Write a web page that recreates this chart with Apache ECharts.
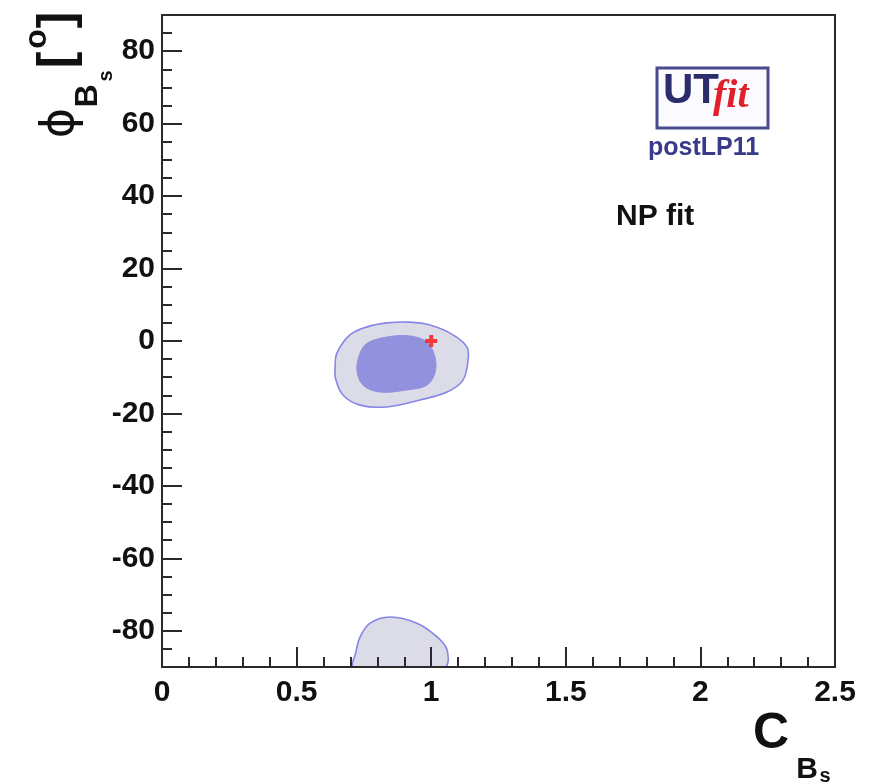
<!DOCTYPE html>
<html>
<head>
<meta charset="utf-8">
<script src="https://cdn.jsdelivr.net/npm/echarts@6/dist/echarts.min.js"></script>
<style>
html,body{margin:0;padding:0;background:#fff;}
#chart{width:875px;height:783px;}
</style>
</head>
<body>
<div id="chart"></div>
<script>
// ---- data ----
const xTickValues = [0, 0.5, 1, 1.5, 2, 2.5];
const yTickValues = [-80, -60, -40, -20, 0, 20, 40, 60, 80];
const xRange = [0, 2.5];
const yRange = [-90, 90];

// 95% probability region (upper island), [C_Bs, phi_Bs]
const outer95 = [[0.643,-7.2],[0.650,-3.3],[0.698,1.7],[0.762,3.9],[0.836,5.0],[0.920,5.2],[0.996,4.4],
  [1.081,1.7],[1.133,-1.7],[1.137,-5.3],[1.118,-10.8],[1.059,-14.1],[0.958,-16.3],[0.836,-18.2],
  [0.736,-17.7],[0.672,-14.9],[0.645,-10.5]];
// 68% probability region
const inner68 = [[0.724,-8.0],[0.735,-3.5],[0.762,-0.6],[0.836,1.1],[0.921,1.4],[0.984,-0.3],[1.014,-4.4],
  [1.014,-8.8],[0.984,-12.2],[0.910,-13.5],[0.810,-14.1],[0.747,-12.2]];
// 95% probability region (lower island)
const lower95 = [[0.712,-90],[0.720,-86],[0.736,-81.7],[0.773,-77.9],[0.847,-76.2],[0.947,-77.9],
  [1.022,-81.7],[1.059,-85.3],[1.051,-90],[0.88,-90]];
// Standard Model point
const smPoint = [[1.0, 0.0]];

// ---- styles ----
const contourList = [
  {pts: outer95, fill: '#dcdce8', stroke: '#8686e6', lw: 1.6},
  {pts: lower95, fill: '#dcdce8', stroke: '#8686e6', lw: 1.6},
  {pts: inner68, fill: '#9191de', stroke: '#9191de', lw: 1}
];
const FONT = "'Liberation Sans', Arial, sans-serif";
const AX = '#2a2a2a';
const G = {left: 162, top: 15, width: 673, height: 652};

const chart = echarts.init(document.getElementById('chart'));
const option = {
  animation: false,
  backgroundColor: '#fff',
  grid: [
    Object.assign({show: false}, G),
    Object.assign({show: true, borderColor: AX, borderWidth: 2, backgroundColor: 'transparent', z: 20}, G)
  ],
  xAxis: [
    {gridIndex: 0, type: 'value', min: xRange[0], max: xRange[1], interval: 0.1, z: 10,
     axisLine: {show: false, onZero: false}, splitLine: {show: false}, axisLabel: {show: false},
     axisTick: {show: true, inside: true, length: 10, lineStyle: {color: AX, width: 2}}},
    {gridIndex: 1, type: 'value', min: xRange[0], max: xRange[1], interval: 0.5, z: 10,
     axisLine: {show: true, onZero: false, lineStyle: {color: AX, width: 2}}, splitLine: {show: false},
     axisTick: {show: true, inside: true, length: 20, customValues: xTickValues, lineStyle: {color: AX, width: 2}},
     axisLabel: {customValues: xTickValues, formatter: v => String(v), margin: 11,
       fontFamily: FONT, fontWeight: 'bold', fontSize: 30, color: '#111'}}
  ],
  yAxis: [
    {gridIndex: 0, type: 'value', min: yRange[0], max: yRange[1], interval: 5, z: 10,
     axisLine: {show: false, onZero: false}, splitLine: {show: false}, axisLabel: {show: false},
     axisTick: {show: true, inside: true, length: 10, lineStyle: {color: AX, width: 2}}},
    {gridIndex: 1, type: 'value', min: yRange[0], max: yRange[1], interval: 10, z: 10,
     axisLine: {show: true, onZero: false, lineStyle: {color: AX, width: 2}}, splitLine: {show: false},
     axisTick: {show: true, inside: true, length: 20, customValues: yTickValues, lineStyle: {color: AX, width: 2}},
     axisLabel: {customValues: yTickValues, formatter: v => String(v), margin: 7,
       fontFamily: FONT, fontWeight: 'bold', fontSize: 30, color: '#111'}}
  ],
  series: [
    {type: 'custom', xAxisIndex: 0, yAxisIndex: 0, clip: true, z: 2,
     data: contourList.map((c, i) => i),
     renderItem: function (params, api) {
       const c = contourList[params.dataIndex];
       const points = c.pts.map(p => api.coord(p));
       return {type: 'polygon', shape: {points: points, smooth: 0.35},
               style: {fill: c.fill, stroke: c.stroke, lineWidth: c.lw}};
     }},
    {type: 'scatter', xAxisIndex: 0, yAxisIndex: 0, z: 30, data: smPoint,
     symbol: 'path://M4,0H8V4H12V8H8V12H4V8H0V4H4Z', symbolSize: 12,
     itemStyle: {color: '#ff1010'}}
  ],
  graphic: [
    // y-axis title  phi_Bs [o]
    {type: 'text', x: 61, y: 123, rotation: Math.PI / 2, z: 50,
     style: {text: 'ϕ', font: "46px 'DejaVu Sans', sans-serif", fill: '#111', textAlign: 'center', textVerticalAlign: 'middle'}},
    {type: 'text', x: 88, y: 96, rotation: Math.PI / 2, z: 50,
     style: {text: 'B', font: "bold 32px " + FONT, fill: '#111', textAlign: 'center', textVerticalAlign: 'middle'}},
    {type: 'text', x: 106, y: 76, rotation: Math.PI / 2, z: 50,
     style: {text: 's', font: "bold 20px " + FONT, fill: '#111', textAlign: 'center', textVerticalAlign: 'middle'}},
    {type: 'text', x: 58, y: 60, rotation: Math.PI / 2, z: 50,
     style: {text: '[', font: "bold 50px " + FONT, fill: '#111', textAlign: 'center', textVerticalAlign: 'middle'}},
    {type: 'text', x: 37, y: 39, rotation: Math.PI / 2, z: 50,
     style: {text: 'o', font: "bold 32px " + FONT, fill: '#111', textAlign: 'center', textVerticalAlign: 'middle'}},
    {type: 'text', x: 58, y: 20, rotation: Math.PI / 2, z: 50,
     style: {text: ']', font: "bold 50px " + FONT, fill: '#111', textAlign: 'center', textVerticalAlign: 'middle'}},
    // x-axis title  C_Bs
    {type: 'text', x: 771, y: 734, z: 50,
     style: {text: 'C', font: "bold 50px " + FONT, fill: '#111', textAlign: 'center', textVerticalAlign: 'middle'}},
    {type: 'text', x: 807, y: 770, z: 50,
     style: {text: 'B', font: "bold 30px " + FONT, fill: '#111', textAlign: 'center', textVerticalAlign: 'middle'}},
    {type: 'text', x: 825, y: 776, z: 50,
     style: {text: 's', font: "bold 20px " + FONT, fill: '#111', textAlign: 'center', textVerticalAlign: 'middle'}},
    // NP fit label
    {type: 'text', x: 616, y: 217, z: 50,
     style: {text: 'NP fit', font: "bold 30px " + FONT, fill: '#111', textAlign: 'left', textVerticalAlign: 'middle'}},
    // UTfit logo
    {type: 'rect', x: 657, y: 68, z: 50,
     shape: {width: 111, height: 60},
     style: {fill: '#fbfbff', stroke: '#4a4a8e', lineWidth: 3}},
    {type: 'text', x: 663, y: 91, z: 51,
     style: {text: 'UT', font: "bold 42px " + FONT, fill: '#2c2c6c', textAlign: 'left', textVerticalAlign: 'middle'}},
    {type: 'text', x: 713, y: 97, z: 51,
     style: {text: 'fit', font: "bold italic 40px 'Liberation Serif', serif", fill: '#e0202a', textAlign: 'left', textVerticalAlign: 'middle'}},
    {type: 'text', x: 648, y: 148, z: 50,
     style: {text: 'postLP11', font: "bold 25px " + FONT, fill: '#3a3a8a', textAlign: 'left', textVerticalAlign: 'middle'}}
  ]
};
chart.setOption(option);
</script>
</body>
</html>
